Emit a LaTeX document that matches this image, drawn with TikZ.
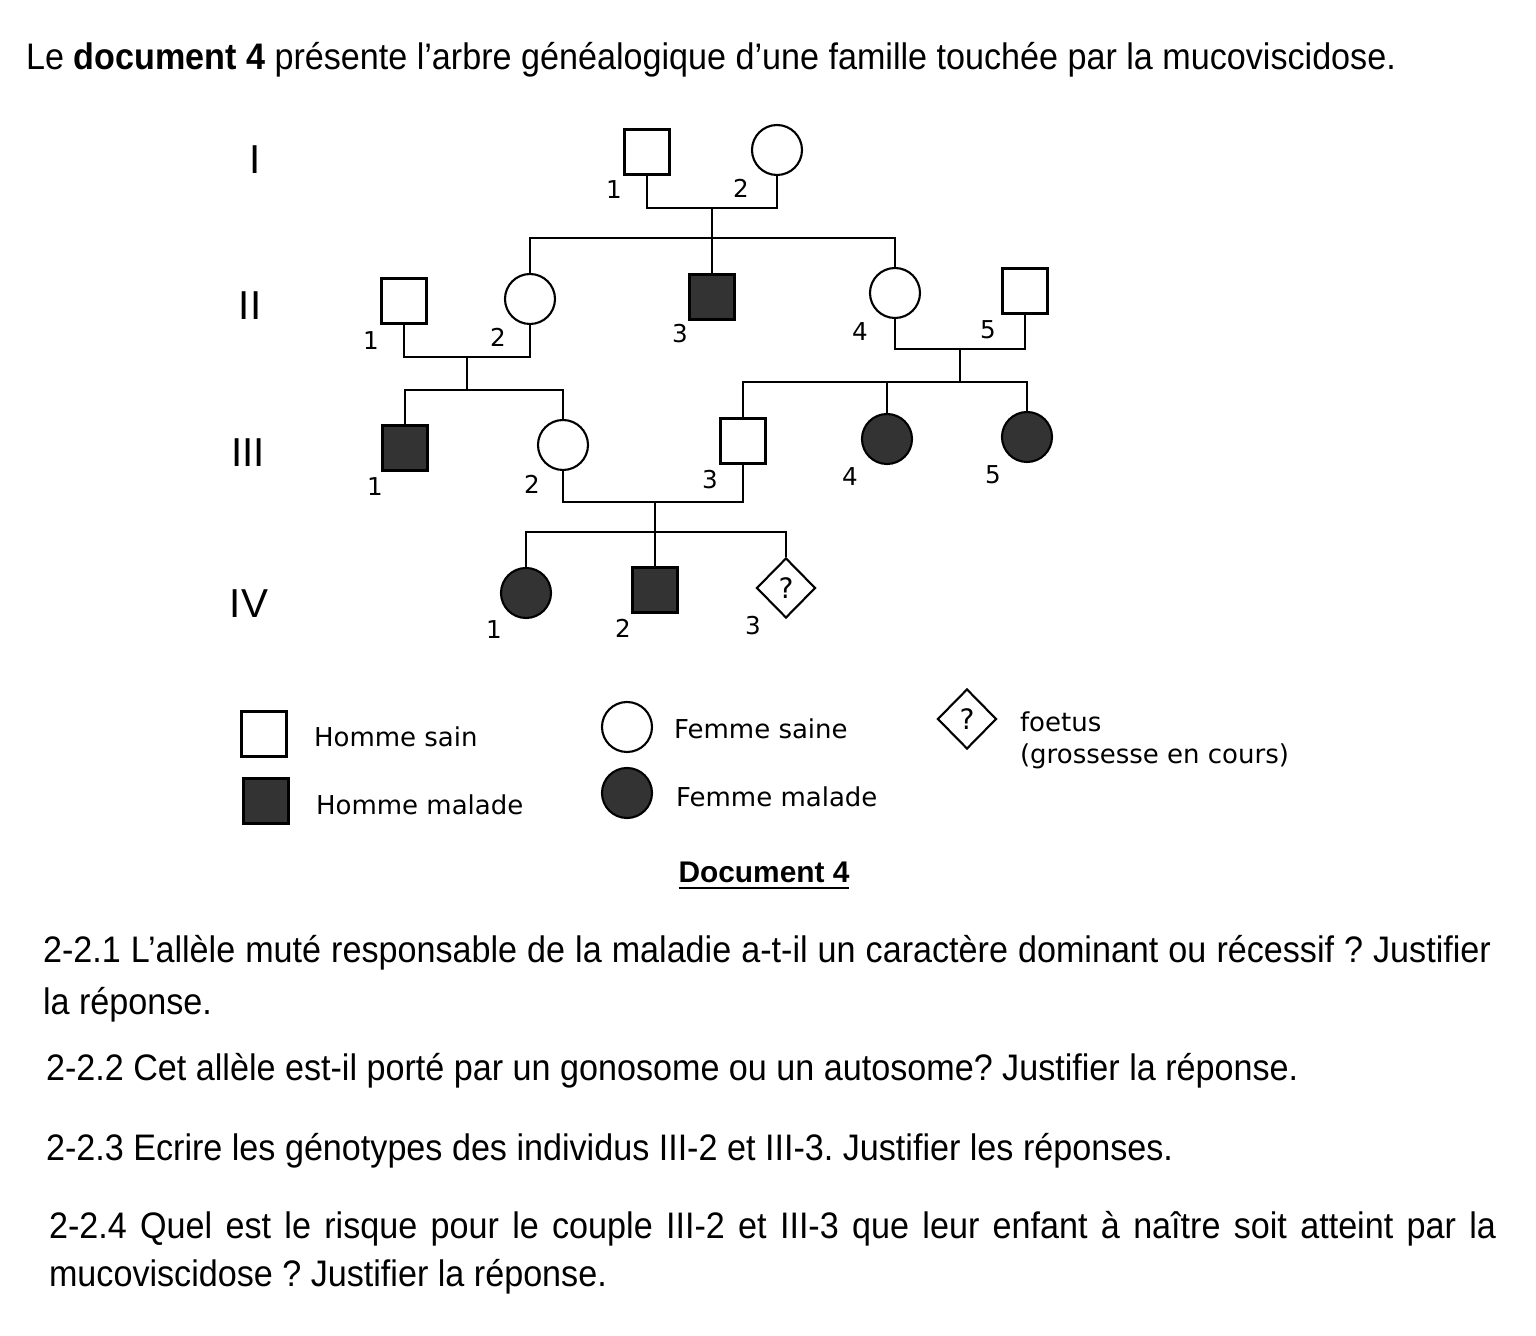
\documentclass[tikz,border=0pt]{standalone}
\usepackage{fontspec}
\setmainfont{Liberation Sans}
\newfontfamily\qfont[FakeStretch=0.925]{Liberation Sans}
\newfontfamily\pfont{DejaVu Sans}
\usetikzlibrary{shapes.geometric,positioning}
\frenchspacing

\begin{document}
\begin{tikzpicture}[x=0.1mm,y=-0.1mm,line width=0.6pt,
  homme/.style={draw,minimum size=4.5mm,inner sep=0pt},
  femme/.style={draw,circle,minimum size=5mm,inner sep=0pt},
  malade/.style={fill=black!80},
  foetus/.style={draw,diamond,minimum width=5.9mm,minimum height=6mm,inner sep=0pt,
    font=\pfont\fontsize{8}{9}\selectfont},
  numero/.style={font=\pfont\fontsize{7}{8}\selectfont,inner sep=0pt},
  gen/.style={font=\fontsize{11.5}{13}\selectfont,inner sep=0pt},
  legende/.style={font=\pfont\fontsize{7.4}{9}\selectfont,anchor=west,inner sep=0pt,align=left},
  question/.style={font=\qfont\fontsize{10.5}{12}\selectfont,anchor=west,inner sep=0pt}]
\fill[white] (0,0) rectangle (1536,1336);
\useasboundingbox (0,0) rectangle (1536,1336);

% texte d'introduction
\node[question] (titre) at (25,60) {Le \textbf{document 4} présente l’arbre généalogique d’une famille touchée par la mucoviscidose.};

% generations
\node[gen] (gI) at (255,160) {I};
\node[gen] (gII) at (250,306) {II};
\node[gen] (gIII) at (248,453) {III};
\node[gen] (gIV) at (249,604) {IV};

% individus
\node[homme] (I1) at (647,152) {};
\node[femme] (I2) at (777,150) {};
\node[homme] (II1) at (404,301) {};
\node[femme] (II2) at (530,299) {};
\node[homme,malade] (II3) at (712,297) {};
\node[femme] (II4) at (895,293) {};
\node[homme] (II5) at (1025,291) {};
\node[homme,malade] (III1) at (405,448) {};
\node[femme] (III2) at (563,445) {};
\node[homme] (III3) at (743,441) {};
\node[femme,malade] (III4) at (887,439) {};
\node[femme,malade] (III5) at (1027,437) {};
\node[femme,malade] (IV1) at (526,593) {};
\node[homme,malade] (IV2) at (655,590) {};
\node[foetus] (IV3) at (786,588) {?};

% numeros
\node[numero] (nI1) at (614,190) {1};
\node[numero] (nI2) at (741,188) {2};
\node[numero] (nII1) at (371,341) {1};
\node[numero] (nII2) at (498,337) {2};
\node[numero] (nII3) at (680,334) {3};
\node[numero] (nII4) at (860,332) {4};
\node[numero] (nII5) at (988,330) {5};
\node[numero] (nIII1) at (375,487) {1};
\node[numero] (nIII2) at (532,484) {2};
\node[numero] (nIII3) at (710,480) {3};
\node[numero] (nIII4) at (850,477) {4};
\node[numero] (nIII5) at (993,475) {5};
\node[numero] (nIV1) at (494,630) {1};
\node[numero] (nIV2) at (623,628) {2};
\node[numero] (nIV3) at (753,626) {3};

% unions et descendance
\coordinate (m1) at (712,208);
\coordinate (s1) at (712,238);
\draw (I1.south) |- (m1) -| (I2.south);
\draw (m1) -- (s1) -- (II3.north);
\draw (II2.north) |- (s1) -| (II4.north);

\coordinate (m2) at (467,357);
\coordinate (s2) at (467,390);
\draw (II1.south) |- (m2) -| (II2.south);
\draw (m2) -- (s2);
\draw (III1.north) |- (s2) -| (III2.north);

\coordinate (m3) at (960,349);
\coordinate (s3) at (960,382);
\draw (II4.south) |- (m3) -| (II5.south);
\draw (m3) -- (s3);
\draw (III3.north) |- (s3) -| (III5.north);
\draw (III4.north) -- (III4.north |- s3);

\coordinate (m4) at (655,502);
\coordinate (s4) at (655,532);
\draw (III2.south) |- (m4) -| (III3.south);
\draw (m4) -- (s4) -- (IV2.north);
\draw (IV1.north) |- (s4) -| (IV3.north);

% legende
\node[homme] (lHs) at (264,734) {};
\node[legende] (tHs) at (313,737) {Homme sain};
\node[homme,malade] (lHm) at (266,801) {};
\node[legende] (tHm) at (315,805) {Homme malade};
\node[femme] (lFs) at (627,727) {};
\node[legende] (tFs) at (673,729) {Femme saine};
\node[femme,malade] (lFm) at (627,793) {};
\node[legende] (tFm) at (675,797) {Femme malade};
\node[foetus] (lF) at (967,719) {?};
\node[legende,anchor=north west] (tF) at (1019,711) {foetus\\(grossesse en cours)};

\node[font=\bfseries\fontsize{8.5}{10}\selectfont] (doc) at (764,876) {\underline{Document 4}};

% questions
\node[question] (q1a) at (42,953) {\makebox[144.8mm][s]{2-2.1 L’allèle muté responsable de la maladie a-t-il un caractère dominant ou récessif ? Justifier}};
\node[question] (q1b) at (42,1005) {la réponse.};
\node[question] (q2) at (45,1071) {2-2.2 Cet allèle est-il porté par un gonosome ou un autosome? Justifier la réponse.};
\node[question] (q3) at (45,1151) {2-2.3 Ecrire les génotypes des individus III-2 et III-3. Justifier les réponses.};
\node[question] (q4a) at (48,1229) {\makebox[144.7mm][s]{2-2.4 Quel est le risque pour le couple III-2 et III-3 que leur enfant à naître soit atteint par la}};
\node[question] (q4b) at (48,1277) {mucoviscidose ? Justifier la réponse.};
\end{tikzpicture}
\end{document}
